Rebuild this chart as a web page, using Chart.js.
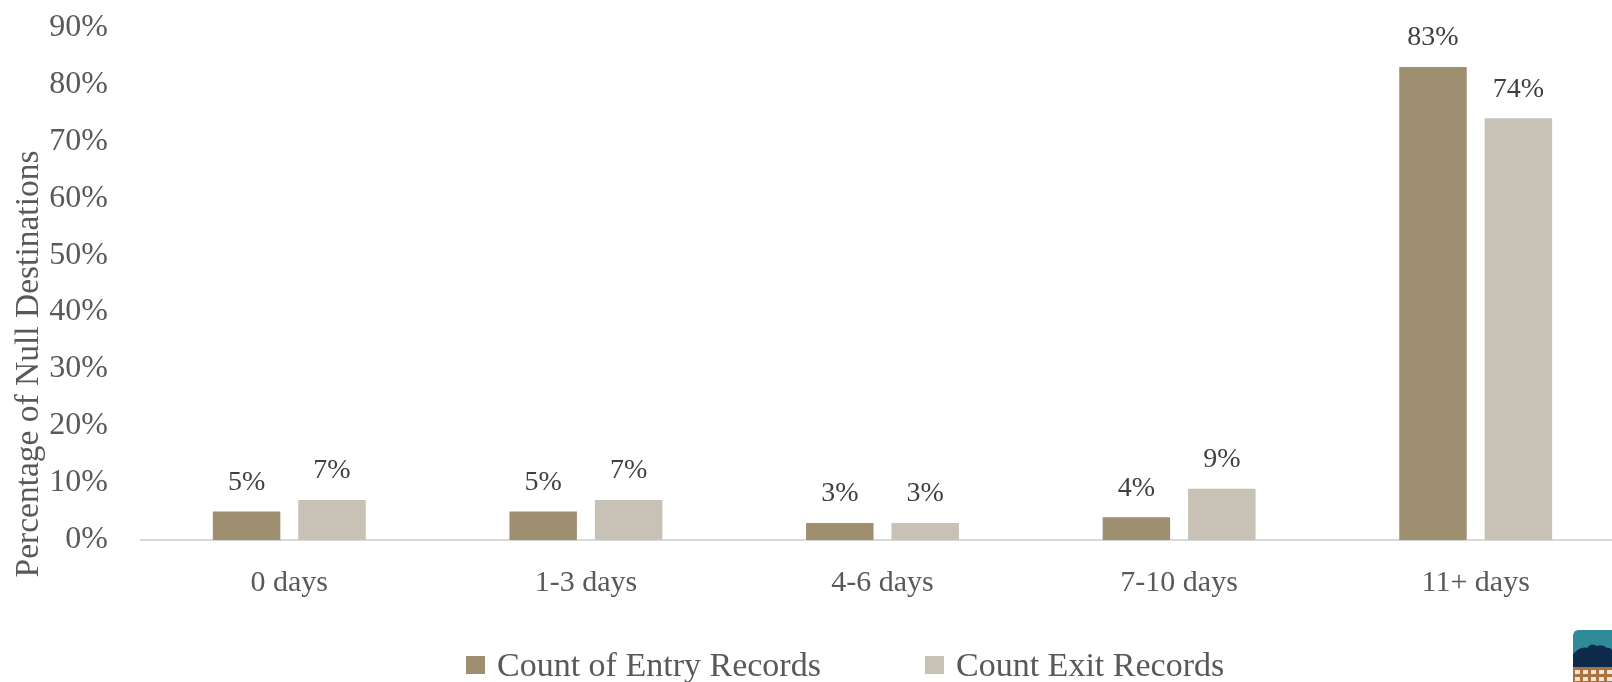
<!DOCTYPE html>
<html>
<head>
<meta charset="utf-8">
<script src="https://cdn.jsdelivr.net/npm/chart.js@4/dist/chart.umd.min.js"></script>
<style>
  html, body { margin: 0; padding: 0; background: #fff; }
  #wrap { position: relative; width: 1612px; height: 682px; overflow: hidden; }
  #grafik { position: absolute; left: 0; top: -25px; }
  .oge { position: absolute; top: 645px; font-family: "Liberation Serif", serif; font-size: 34px; line-height: 40px; color: #595959; white-space: nowrap; }
  .kutu { position: absolute; top: 11px; width: 19px; height: 18px; }
  .oge .metin { position: absolute; left: 31px; top: 0; }
  #logo { position: absolute; left: 1573px; top: 630px; }
</style>
</head>
<body>
<div id="wrap">
  <canvas id="grafik" width="1624" height="707"></canvas>
  <div class="oge" style="left:466px"><span class="kutu" style="background:#9d8f70"></span><span class="metin">Count of Entry Records</span></div>
  <div class="oge" style="left:925px"><span class="kutu" style="background:#c8c1b5"></span><span class="metin">Count Exit Records</span></div>
  <svg id="logo" width="39" height="52" viewBox="0 0 39 52">
    <path d="M6 0 H39 V52 H0 V6 Q0 0 6 0 Z" fill="#2f8a99"/>
    <path d="M0 24 Q8 16 14 18 Q18 12 24 16 Q30 14 34 18 Q37 17 39 20 V52 H0 Z" fill="#0d2a4a"/>
    <rect x="0" y="37" width="39" height="15" fill="#a8733f"/>
    <g fill="#f1e6d6">
      <rect x="2" y="40" width="5" height="4"/><rect x="10" y="40" width="5" height="4"/><rect x="18" y="40" width="5" height="4"/><rect x="26" y="40" width="5" height="4"/><rect x="34" y="40" width="5" height="4"/>
      <rect x="2" y="47" width="5" height="4"/><rect x="10" y="47" width="5" height="4"/><rect x="18" y="47" width="5" height="4"/><rect x="26" y="47" width="5" height="4"/><rect x="34" y="47" width="5" height="4"/>
    </g>
  </svg>
</div>
<script>
// veriler
const kategoriler = ["0 days", "1-3 days", "4-6 days", "7-10 days", "11+ days"];
const girisKayit = [5, 5, 3, 4, 83];
const cikisKayit = [7, 7, 3, 9, 74];
const yEksenBasligi = "Percentage of Null Destinations";

const yazi = "'Liberation Serif', serif";

// bar ustu etiketler
const etiketEklentisi = {
  id: "etiketler",
  afterDatasetsDraw(chart) {
    const ctx = chart.ctx;
    ctx.save();
    ctx.font = "28px " + yazi;
    ctx.fillStyle = "#404040";
    ctx.textAlign = "center";
    ctx.textBaseline = "middle";
    chart.data.datasets.forEach((ds, i) => {
      chart.getDatasetMeta(i).data.forEach((bar, j) => {
        ctx.fillText(ds.data[j] + "%", bar.x, bar.y - 29);
      });
    });
    ctx.restore();
  }
};

// y ekseni basligi (orijinalde biraz asagida)
const baslikEklentisi = {
  id: "ybaslik",
  afterDraw(chart) {
    const ctx = chart.ctx;
    const a = chart.chartArea;
    ctx.save();
    ctx.translate(29, a.bottom - 176);
    ctx.rotate(-Math.PI / 2);
    ctx.font = "33.5px " + yazi;
    ctx.fillStyle = "#595959";
    ctx.textAlign = "center";
    ctx.textBaseline = "middle";
    ctx.fillText(yEksenBasligi, 0, 0);
    ctx.restore();
  }
};

new Chart(document.getElementById("grafik"), {
  type: "bar",
  data: {
    labels: kategoriler,
    datasets: [
      { label: "Count of Entry Records", data: girisKayit, backgroundColor: "#9d8f70",
        categoryPercentage: 0.576, barPercentage: 0.79 },
      { label: "Count Exit Records", data: cikisKayit, backgroundColor: "#c8c1b5",
        categoryPercentage: 0.576, barPercentage: 0.79 }
    ]
  },
  options: {
    responsive: false,
    animation: false,
    layout: { padding: { top: 8, right: 0, left: 0, bottom: 0 } },
    plugins: {
      legend: { display: false },
      tooltip: { enabled: false }
    },
    scales: {
      x: {
        grid: { display: false, drawTicks: false },
        border: { color: "#d9d9d9", width: 2 },
        ticks: { font: { family: yazi, size: 30 }, color: "#595959", padding: 25 },
        afterFit(s) { s.height = 142; }
      },
      y: {
        min: 0, max: 90,
        grid: { display: false, drawTicks: false },
        border: { display: false },
        ticks: { stepSize: 10, font: { family: yazi, size: 32 }, color: "#595959", padding: 33,
          callback: v => v + "%" },
        afterFit(s) { s.width = 141; }
      }
    }
  },
  plugins: [etiketEklentisi, baslikEklentisi]
});
</script>
</body>
</html>
